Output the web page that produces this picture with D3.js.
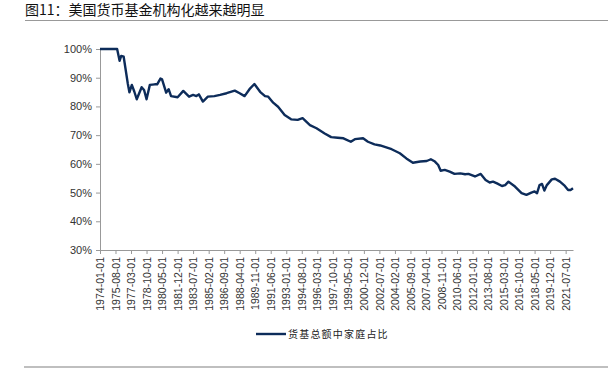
<!DOCTYPE html>
<html>
<head>
<meta charset="utf-8">
<script src="https://cdn.jsdelivr.net/npm/d3@7"></script>
<style>
  body { margin: 0; background: #fff; }
  svg { display: block; }
</style>
</head>
<body>
<div id="chart"></div>
<script>
const W = 608, H = 373;

const titleText = '图11：美国货币基金机构化越来越明显';
const seriesName = '货基总额中家庭占比';

// (month, share %)
const months = ['1974-01','1975-10','1976-01','1976-03','1976-06','1976-11','1977-01','1977-04','1977-07','1977-10',
  '1978-04','1978-07','1978-10','1979-02','1979-08','1979-11','1980-03','1980-05','1980-10','1981-01',
  '1981-04','1981-12','1982-07','1983-02','1983-07','1983-11','1984-02','1984-07','1985-01','1985-09',
  '1986-04','1986-12','1987-10','1988-04','1988-10','1989-04','1989-10','1990-05','1990-11','1991-03',
  '1991-09','1992-03','1992-11','1993-07','1994-03','1994-09','1995-06','1996-02','1996-12','1997-08',
  '1998-04','1998-11','1999-08','2000-01','2000-11','2001-05','2002-01','2002-08','2003-10','2004-08',
  '2005-04','2005-12','2006-09','2007-05','2007-10','2008-03','2008-07','2008-10','2009-03','2009-09',
  '2010-03','2010-10','2011-04','2011-08','2012-04','2012-11','2013-05','2013-10','2014-02','2014-07',
  '2015-01','2015-05','2015-09','2016-05','2017-01','2017-07','2018-01','2018-05','2018-08','2018-11',
  '2019-02','2019-05','2019-08','2020-02','2020-06','2020-12','2021-06','2021-10','2022-01','2022-04'];
const shares = [100,100,95.9,97.6,97.3,88,84.9,87.5,85.2,82.5,
  86.7,85.7,82.5,87.5,87.7,87.7,89.7,89.4,84.8,86,
  83.6,83.2,85.4,83.4,84,83.6,84.2,81.7,83.4,83.6,
  84,84.6,85.5,84.6,83.6,86,87.8,85.1,83.6,83.4,
  81.3,79.9,77,75.5,75.3,75.9,73.5,72.4,70.6,69.3,
  69.1,68.9,67.7,68.6,68.9,67.7,66.8,66.4,65.1,63.7,
  61.9,60.4,60.8,61,61.6,60.8,59.6,57.6,57.9,57.3,
  56.5,56.7,56.4,56.5,55.6,56.5,54.4,53.5,53.8,53.2,
  52.3,52.6,53.8,52.1,49.8,49.2,50,50.4,49.8,52.6,
  53,50.7,52.6,54.6,54.8,53.8,52.3,50.9,50.9,51.5];

const tickLabels = ['1974-01-01','1975-08-01','1977-03-01','1978-10-01','1980-05-01','1981-12-01','1983-07-01',
  '1985-02-01','1986-09-01','1988-04-01','1989-11-01','1991-06-01','1993-01-01','1994-08-01','1996-03-01',
  '1997-10-01','1999-05-01','2000-12-01','2002-07-01','2004-02-01','2005-09-01','2007-04-01','2008-11-01',
  '2010-06-01','2012-01-01','2013-08-01','2015-03-01','2016-10-01','2018-05-01','2019-12-01','2021-07-01'];
const yTicks = [30, 40, 50, 60, 70, 80, 90, 100];

const parseM = d3.timeParse('%Y-%m');
const parseD = d3.timeParse('%Y-%m-%d');
const data = months.map((m, i) => ({ date: parseM(m), v: shares[i] }));

const margin = { left: 100, right: 35, top: 49, bottom: 123 };

const svg = d3.select('#chart').append('svg')
  .attr('width', W).attr('height', H);

const x = d3.scaleTime()
  .domain([parseM('1974-01'), parseM('2022-04')])
  .range([margin.left, W - margin.right]);

const y = d3.scaleLinear()
  .domain([30, 100])
  .range([H - margin.bottom, margin.top]);

// title + rules
svg.append('text')
  .attr('x', 25).attr('y', 15)
  .style('font-family', '"Noto Sans CJK SC", sans-serif')
  .style('font-size', '14px')
  .style('fill', '#111')
  .text(titleText);

svg.append('line')
  .attr('x1', 25).attr('x2', W).attr('y1', 20.5).attr('y2', 20.5)
  .style('stroke', '#999').style('stroke-width', 1);

svg.append('line')
  .attr('x1', 24).attr('x2', W).attr('y1', 367).attr('y2', 367)
  .style('stroke', '#aaa').style('stroke-width', 1.5);

// y axis
const yAxis = svg.append('g')
  .attr('transform', `translate(${margin.left},0)`)
  .call(d3.axisLeft(y).tickValues(yTicks).tickSize(4).tickPadding(4).tickFormat(d => d + '%'));
yAxis.select('.domain').style('stroke', '#999');
yAxis.selectAll('.tick line').style('stroke', '#999');
yAxis.selectAll('text')
  .style('font-family', '"Liberation Sans", Arial, sans-serif')
  .style('font-size', '11px')
  .style('fill', '#333');

// x axis
const xAxis = svg.append('g')
  .attr('transform', `translate(0,${y(30)})`)
  .call(d3.axisBottom(x).tickValues(tickLabels.map(parseD)).tickSize(4).tickSizeOuter(0)
    .tickFormat(d3.timeFormat('%Y-%m-%d')));
xAxis.select('.domain').style('stroke', '#999');
xAxis.selectAll('.tick line').style('stroke', '#999');
xAxis.selectAll('text')
  .attr('transform', 'rotate(-90)')
  .attr('x', -7).attr('y', 0).attr('dy', '0.35em')
  .style('text-anchor', 'end')
  .style('font-family', '"Liberation Sans", Arial, sans-serif')
  .style('font-size', '10.5px')
  .style('fill', '#333');

// line
const line = d3.line()
  .x(d => x(d.date))
  .y(d => y(d.v));

svg.append('path')
  .datum(data)
  .attr('d', line)
  .style('fill', 'none')
  .style('stroke', '#0d2c5a')
  .style('stroke-width', 2.4)
  .style('stroke-linejoin', 'round');

// legend
svg.append('line')
  .attr('x1', 256).attr('x2', 286).attr('y1', 334).attr('y2', 334)
  .style('stroke', '#0d2c5a').style('stroke-width', 2.4);

svg.append('text')
  .attr('x', 288).attr('y', 334).attr('dy', '0.35em')
  .style('font-family', '"Noto Sans CJK SC", sans-serif')
  .style('font-size', '10px')
  .style('letter-spacing', '1.2px')
  .style('fill', '#222')
  .text(seriesName);
</script>
</body>
</html>
